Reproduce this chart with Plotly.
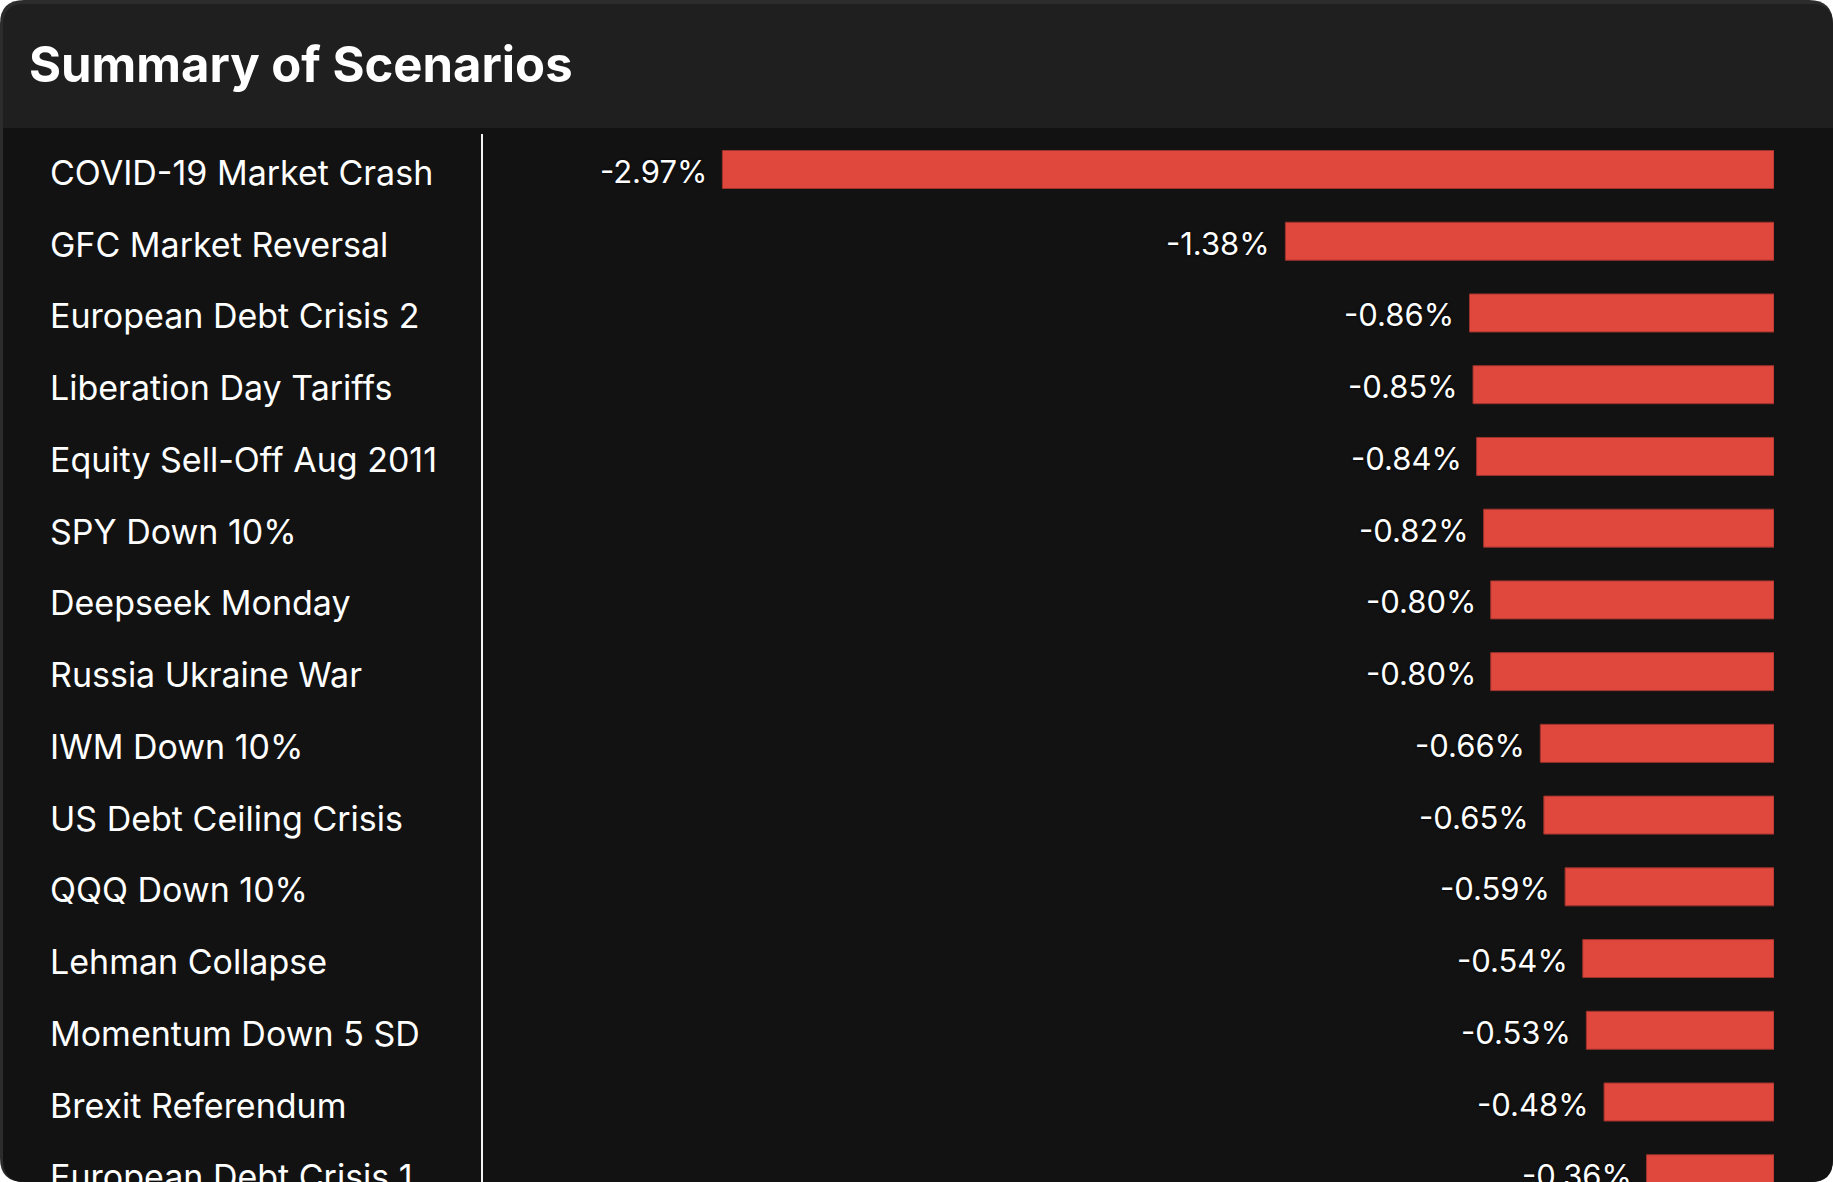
import plotly.graph_objects as go

W, H = 1833, 1182

scenarios = ['COVID-19 Market Crash', 'GFC Market Reversal', 'European Debt Crisis 2',
             'Liberation Day Tariffs', 'Equity Sell-Off Aug 2011', 'SPY Down 10%',
             'Deepseek Monday', 'Russia Ukraine War', 'IWM Down 10%',
             'US Debt Ceiling Crisis', 'QQQ Down 10%', 'Lehman Collapse',
             'Momentum Down 5 SD', 'Brexit Referendum', 'European Debt Crisis 1']
impact_pct = [-2.97, -1.38, -0.86, -0.85, -0.84, -0.82, -0.80, -0.80,
              -0.66, -0.65, -0.59, -0.54, -0.53, -0.48, -0.36]
title_text = 'Summary of Scenarios'

BAR_RED = '#e0473d'
HEADER_BG = '#1f1f1f'
BODY_BG = '#121212'
FRAME = '#2c2c2c'
FONT = 'Inter, Roboto, sans-serif'


def px_x(x):
    return x / W


def px_y(y):
    return 1 - y / H


def rounded_path(x0, y0, x1, y1, r_tl, r_tr, r_br, r_bl):
    # pixel box -> paper path with quadratic corners
    p = []
    p.append(f'M {px_x(x0 + r_tl)},{px_y(y0)}')
    p.append(f'L {px_x(x1 - r_tr)},{px_y(y0)}')
    p.append(f'Q {px_x(x1)},{px_y(y0)} {px_x(x1)},{px_y(y0 + r_tr)}')
    p.append(f'L {px_x(x1)},{px_y(y1 - r_br)}')
    p.append(f'Q {px_x(x1)},{px_y(y1)} {px_x(x1 - r_br)},{px_y(y1)}')
    p.append(f'L {px_x(x0 + r_bl)},{px_y(y1)}')
    p.append(f'Q {px_x(x0)},{px_y(y1)} {px_x(x0)},{px_y(y1 - r_bl)}')
    p.append(f'L {px_x(x0)},{px_y(y0 + r_tl)}')
    p.append(f'Q {px_x(x0)},{px_y(y0)} {px_x(x0 + r_tl)},{px_y(y0)}')
    p.append('Z')
    return ' '.join(p)


fig = go.Figure()

fig.add_trace(go.Bar(
    x=impact_pct,
    y=list(range(len(scenarios))),
    orientation='h',
    width=0.53,
    marker=dict(color=BAR_RED, line=dict(color='#9c332c', width=1)),
    hoverinfo='skip',
    showlegend=False,
))

shapes = [
    # outer frame
    dict(type='path', xref='paper', yref='paper', layer='below',
         path=rounded_path(0, 0, W, H, 24, 24, 24, 24),
         fillcolor=FRAME, line=dict(width=0)),
    # header
    dict(type='path', xref='paper', yref='paper', layer='below',
         path=rounded_path(3, 4, W, 200, 21, 21, 0, 0),
         fillcolor=HEADER_BG, line=dict(width=0)),
    # body
    dict(type='path', xref='paper', yref='paper', layer='below',
         path=rounded_path(3, 128, W, H, 0, 0, 22, 22),
         fillcolor=BODY_BG, line=dict(width=0)),
]

annotations = [dict(
    text=f'<b>{title_text}</b>', xref='paper', yref='paper',
    x=px_x(27), y=px_y(65), xanchor='left', yanchor='middle', showarrow=False,
    font=dict(family=FONT, size=49, color='#ffffff'),
)]

# scenario names, left aligned
for i, name in enumerate(scenarios):
    annotations.append(dict(
        text=name, xref='paper', yref='y', x=px_x(48), y=i,
        xanchor='left', yanchor='middle', yshift=-3, showarrow=False,
        font=dict(family=FONT, size=34, color='#ffffff'),
    ))

# value labels to the left of each bar
for i, v in enumerate(impact_pct):
    annotations.append(dict(
        text=f'{v:.2f}%', xref='x', yref='y', x=v, y=i,
        xanchor='right', yanchor='middle', xshift=-13, yshift=-2, showarrow=False,
        font=dict(family=FONT, size=31, color='#ffffff', shadow='0px 0px 3px #000'),
    ))

fig.update_layout(
    width=W, height=H,
    margin=dict(l=0, r=0, t=0, b=0),
    paper_bgcolor='#ffffff',
    plot_bgcolor='rgba(0,0,0,0)',
    shapes=shapes,
    annotations=annotations,
    bargap=0.47,
    xaxis=dict(domain=[px_x(483), px_x(1774)], range=[-3.646, 0],
               showgrid=False, zeroline=False, showticklabels=False, fixedrange=True),
    yaxis=dict(domain=[0, px_y(134)], range=[14.115, -0.495],
               showgrid=False, zeroline=False, showticklabels=False,
               showline=True, linecolor='#f2f2f2', linewidth=2, fixedrange=True),
)

# page body margin off so the card sits at the window corner
fig.write_html('out.html', config={'displayModeBar': False},
               post_script="document.body.style.margin='0';")
